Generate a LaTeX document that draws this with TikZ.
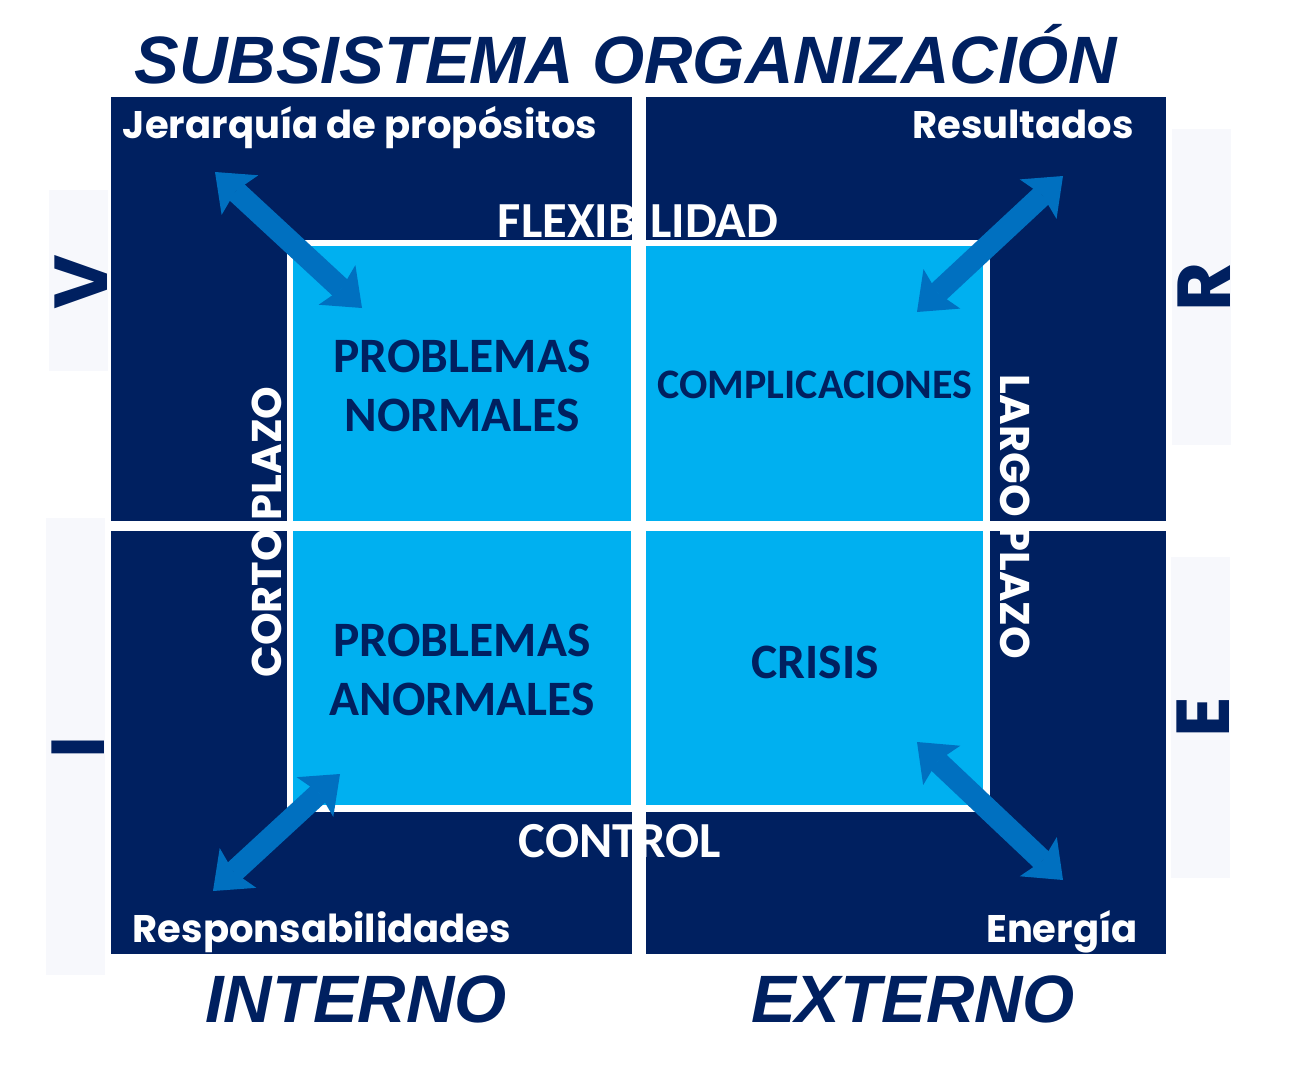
\documentclass[tikz,border=0pt]{standalone}
\usepackage{fontspec}
\setmainfont{Liberation Sans}
\newfontfamily\gothic{Poppins}
\newfontfamily\calib{Carlito}
\usetikzlibrary{arrows.meta, positioning}
\definecolor{navyblue}{RGB}{0,32,96}
\colorlet{quadfill}{navyblue}
\definecolor{skyblue}{RGB}{0,176,240}
\definecolor{arrowblue}{RGB}{0,112,192}
\definecolor{paleband}{RGB}{247,248,252}

\begin{document}
\begin{tikzpicture}[
    x=1pt, y=-1pt,
    quad/.style={fill=quadfill},
    cell/.style={fill=skyblue},
    band/.style={fill=paleband},
    corner/.style={text=white, anchor=base, inner sep=0pt,
      font=\gothic\bfseries\fontsize{38.5}{40}\selectfont},
    edge/.style={text=white, anchor=base, inner sep=0pt,
      font=\calib\bfseries\fontsize{50.5}{52}\selectfont},
    side/.style={text=white, anchor=base, inner sep=0pt,
      font=\gothic\bfseries\fontsize{41.5}{43}\selectfont},
    problem/.style={text=navyblue, align=center, inner sep=0pt,
      font=\calib\bfseries\fontsize{49.5}{59}\selectfont},
    axis/.style={text=navyblue, anchor=base, inner sep=0pt,
      font=\bfseries\itshape\fontsize{67}{70}\selectfont},
    letter/.style={text=navyblue, anchor=base, inner sep=0pt, rotate=90,
      font=\gothic\bfseries\fontsize{75}{75}\selectfont},
    twoway/.style={draw=arrowblue, line width=22pt,
      {Stealth[length=34pt, width=54pt, inset=6pt, line width=0pt]}-{Stealth[length=34pt, width=54pt, inset=6pt, line width=0pt]}},
  ]
    \useasboundingbox (0,0) rectangle (1302,1079);

    % side bands
    \fill[band] (49,190) rectangle (108,371);
    \fill[band] (46,518) rectangle (105,975);
    \fill[band] (1172,129) rectangle (1231,445);
    \fill[band] (1171,557) rectangle (1230,878);

    % quadrants
    \fill[quad] (111,97) rectangle (632,521);
    \fill[quad] (646,97) rectangle (1166,521);
    \fill[quad] (111,531) rectangle (632,954);
    \fill[quad] (646,531) rectangle (1166,954);

    % inner cells
    \fill[white] (287,240) rectangle (990,812);
    \fill[cell] (293,246) rectangle (631,521);
    \fill[cell] (646,246) rectangle (983,521);
    \fill[cell] (293,531) rectangle (631,805);
    \fill[cell] (646,531) rectangle (983,805);

    \node[axis] (title) at (626,83) {SUBSISTEMA ORGANIZACIÓN};
    \node[corner] (goals) at (360,138) {Jerarquía de propósitos};
    \node[corner] (results) at (1023,138) {Resultados};
    \node[corner] (duties) at (322,942) {Responsabilidades};
    \node[corner] (energy) at (1062,942) {Energía};
    \node[edge] (flex) at (638,237) {FLEXIBILIDAD};
    \node[edge] (control) at (620,857) {CONTROL};
    \node[side, rotate=90] (short) at (281,532) {CORTO PLAZO};
    \node[side, rotate=-90] (long) at (1000,517) {LARGO PLAZO};

    \node[problem] (normal) at (462,386) {PROBLEMAS\\NORMALES};
    \node[problem, font=\calib\bfseries\fontsize{42}{44}\selectfont] (compl) at (815,385) {COMPLICACIONES};
    \node[problem] (abnormal) at (462,670) {PROBLEMAS\\ANORMALES};
    \node[problem] (crisis) at (815,662) {CRISIS};

    \node[axis] (inner) at (356,1022) {INTERNO};
    \node[axis] (outer) at (913,1022) {EXTERNO};

    \node[letter] (lv) at (107,282) {V};
    \node[letter] (li) at (104,747) {I};
    \node[letter] (lr) at (1230,287) {R};
    \node[letter] (le) at (1229,717) {E};

    % arrow ends
    \coordinate (goalsEnd) at (215,172);
    \coordinate (normalEnd) at (362,308);
    \coordinate (resultsEnd) at (1063,176);
    \coordinate (complEnd) at (917,312);
    \coordinate (dutiesEnd) at (213,891);
    \coordinate (abnormalEnd) at (340,774);
    \coordinate (crisisEnd) at (917,742);
    \coordinate (energyEnd) at (1063,880);

    \draw[twoway] (goalsEnd) -- (normalEnd);
    \draw[twoway] (resultsEnd) -- (complEnd);
    \draw[twoway] (dutiesEnd) -- (abnormalEnd);
    \draw[twoway] (crisisEnd) -- (energyEnd);
  \end{tikzpicture}
\end{document}
